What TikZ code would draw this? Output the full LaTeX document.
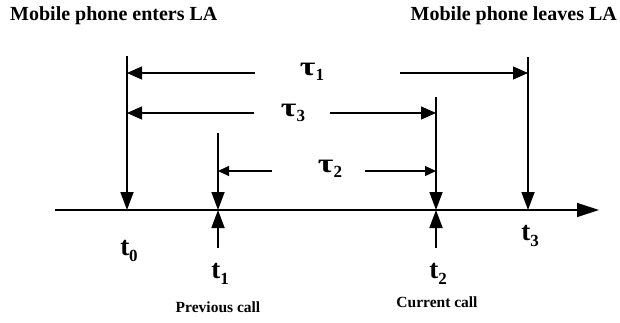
\documentclass[tikz,border=0pt]{standalone}
\usepackage{fontspec}
\setmainfont{Liberation Serif}
\usetikzlibrary{arrows.meta}

% time instant with a lowered index
\newcommand{\tinst}[2]{#1\raisebox{-6pt}{\fontsize{17}{17}\selectfont #2}}
% interval symbol, a little wider than the plain glyph
\newcommand{\tauidx}[1]{\scalebox{1.25}[1]{τ}\raisebox{-5pt}{\fontsize{17}{17}\selectfont #1}}

\begin{document}
\begin{tikzpicture}[
  x=1pt, y=-1pt,
  heading/.style={
    font=\fontsize{20}{24}\selectfont\bfseries,
    inner sep=0pt},
  callnote/.style={
    font=\fontsize{15.5}{18}\selectfont\bfseries,
    inner sep=0pt},
  instant/.style={
    font=\fontsize{27}{30}\selectfont\bfseries,
    inner sep=0pt},
  span/.style={
    font=\fontsize{27}{30}\selectfont\bfseries,
    inner sep=0pt},
  marker/.style={
    -{Triangle[length=18pt,width=13pt]},
    line width=1.8pt},
  bigspan/.style={
    -{Triangle[length=15pt,width=13pt]},
    line width=1.1pt},
  smallspan/.style={
    -{Triangle[length=11pt,width=10pt]},
    line width=1.1pt},
  timeaxis/.style={
    -{Triangle[length=22pt,width=14pt]},
    line width=1.2pt}
]
\useasboundingbox (0,0) rectangle (620,323);

% points on the time axis
\coordinate (axstart) at (55,210);
\coordinate (axend)   at (599,210);
\coordinate (p0) at (127,210);
\coordinate (p1) at (218,210);
\coordinate (p2) at (436,210);
\coordinate (p3) at (528,210);

% tops of the vertical markers
\coordinate (top0) at (127,56);
\coordinate (top1) at (218,133);
\coordinate (top2) at (436,97);
\coordinate (top3) at (528,57);
\coordinate (bot1) at (218,248);
\coordinate (bot2) at (436,248);

\draw[timeaxis] (axstart) -- (axend);
\draw[marker] (top0) -- (p0);
\draw[marker] (top1) -- (p1);
\draw[marker] (top2) -- (p2);
\draw[marker] (top3) -- (p3);
\draw[marker] (bot1) -- (p1);
\draw[marker] (bot2) -- (p2);

% interval labels and their arrows
\node[span] (tau1) at (312,72) {\tauidx{1}};
\node[span] (tau3) at (293,113) {\tauidx{3}};
\node[span] (tau2) at (330,169) {\tauidx{2}};

\coordinate (tau1l) at (255,73);
\coordinate (tau1r) at (400,73);
\coordinate (tau3l) at (254,113);
\coordinate (tau3r) at (330,113);
\coordinate (tau2l) at (272,171);
\coordinate (tau2r) at (365,171);

\draw[bigspan] (tau1l) -- (top0 |- tau1l);
\draw[bigspan] (tau1r) -- (top3 |- tau1r);
\draw[bigspan] (tau3l) -- (top0 |- tau3l);
\draw[bigspan] (tau3r) -- (top2 |- tau3r);
\draw[smallspan] (tau2l) -- (top1 |- tau2l);
\draw[smallspan] (tau2r) -- (top2 |- tau2r);

% instants
\node[instant] (t0) at (129,251) {\tinst{t}{0}};
\node[instant] (t1) at (220,274) {\tinst{t}{1}};
\node[instant] (t2) at (438,274) {\tinst{t}{2}};
\node[instant] (t3) at (530,236) {\tinst{t}{3}};

\node[callnote] (prev) at (218,307) {Previous call};
\node[callnote] (curr) at (437,302) {Current call};

\node[heading, anchor=west] (enter) at (10,16) {Mobile phone enters LA};
\node[heading, anchor=east] (leave) at (617,16) {Mobile phone leaves LA};
\end{tikzpicture}
\end{document}
